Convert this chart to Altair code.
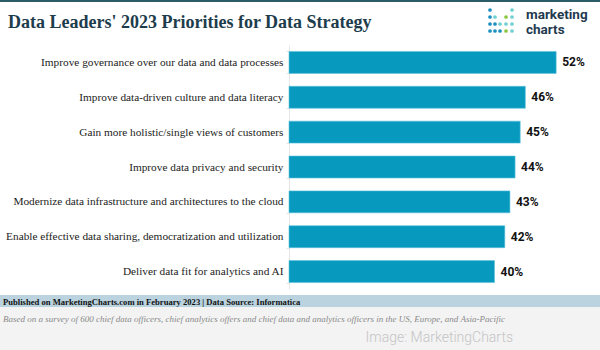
import altair as alt
import pandas as pd

categories = [
    "Improve governance over our data and data processes",
    "Improve data-driven culture and data literacy",
    "Gain more holistic/single views of customers",
    "Improve data privacy and security",
    "Modernize data infrastructure and architectures to the cloud",
    "Enable effective data sharing, democratization and utilization",
    "Deliver data fit for analytics and AI",
]
values = [52, 46, 45, 44, 43, 42, 40]

title_text = "Data Leaders' 2023 Priorities for Data Strategy"
source_text = "Published on MarketingCharts.com in February 2023 | Data Source: Informatica"
note_text = ("Based on a survey of 600 chief data officers, chief analytics offers and chief data "
             "and analytics officers in the US, Europe, and Asia-Pacific")
credit_text = "Image: MarketingCharts"

df = pd.DataFrame({"cat": categories, "val": values})
df["label"] = [f"{v}%" for v in values]

W, H = 298, 244
L, T = 289, 45  # plot origin in page pixels

BAR = "#0899BE"

y_enc = alt.Y("cat:N", sort=categories, title=None,
              scale=alt.Scale(paddingInner=0.37, paddingOuter=0.185),
              axis=alt.Axis(labelFont="Liberation Serif", labelFontSize=11.3,
                            labelColor="#222222", labelPadding=3, labelLimit=300,
                            domainColor="#e6e6e6", tickColor="#e6e6e6", tickSize=3,
                            tickBand="extent", ticks=True, grid=False))
x_enc = alt.X("val:Q", title=None, scale=alt.Scale(domain=[0, 58]), axis=None)

bars = alt.Chart(df).mark_bar(color=BAR, stroke="#5cc3dd", strokeWidth=0.6).encode(x=x_enc, y=y_enc)
labels = alt.Chart(df).mark_text(align="left", baseline="middle", dx=6,
                                 font="Roboto", fontWeight="bold", fontSize=12,
                                 color="#111111").encode(x=x_enc, y=y_enc, text="label:N")

one = alt.Data(values=[{}])

def px(v):
    return alt.value(v - L)

def py(v):
    return alt.value(v - T)

top_line = alt.Chart(one).mark_rect(color="#2c5b69").encode(
    x=px(0), x2=px(600), y=py(0), y2=py(2))

title = alt.Chart(one).mark_text(align="left", baseline="alphabetic", font="Liberation Serif",
                                 fontWeight="bold", fontSize=18, color="#1d3c4c").encode(
    x=px(8), y=py(28), text=alt.value(title_text))

# logo
dots = pd.DataFrame({
    "dx": [490, 512, 490, 495, 506, 512, 490, 495, 500, 506, 512, 490, 495, 500, 506, 512],
    "dy": [10, 10, 17, 17, 17, 17, 24, 24, 24, 24, 24, 31, 31, 31, 31, 31],
    "c":  ["#1a8fc0", "#6fd0d0", "#1a8fc0", "#6fd0d0", "#8cc63f", "#6fd0d0",
           "#1a8fc0", "#1a8fc0", "#6fd0d0", "#6fd0d0", "#6fd0d0",
           "#1a8fc0", "#1a8fc0", "#1a8fc0", "#8cc63f", "#6fd0d0"],
})
dots["dx"] = dots["dx"] - L
dots["dy"] = dots["dy"] - T
logo_dots = alt.Chart(dots).mark_circle(size=14, opacity=1).encode(
    x=alt.X("dx:Q", scale=None), y=alt.Y("dy:Q", scale=None),
    color=alt.Color("c:N", scale=None))
logo_t1 = alt.Chart(one).mark_text(align="left", baseline="alphabetic", font="Roboto",
                                   fontWeight="bold", fontSize=13.5, color="#1f3a4f").encode(
    x=px(526), y=py(19), text=alt.value("marketing"))
logo_t2 = alt.Chart(one).mark_text(align="left", baseline="alphabetic", font="Roboto",
                                   fontWeight="bold", fontSize=13.5, color="#1f3a4f").encode(
    x=px(526), y=py(34), text=alt.value("charts"))

band = alt.Chart(one).mark_rect(color="#bad3df").encode(
    x=px(0), x2=px(600), y=py(295), y2=py(307))
grey = alt.Chart(one).mark_rect(color="#f3f3f3").encode(
    x=px(0), x2=px(600), y=py(307), y2=py(350))
source = alt.Chart(one).mark_text(align="left", baseline="middle", font="Liberation Serif",
                                  fontWeight="bold", fontSize=8.6, color="#111111").encode(
    x=px(3), y=py(301.5), text=alt.value(source_text))
note = alt.Chart(one).mark_text(align="left", baseline="middle", font="Liberation Serif",
                                fontStyle="italic", fontSize=9, color="#8a8a8a").encode(
    x=px(3), y=py(319), text=alt.value(note_text))
credit = alt.Chart(one).mark_text(align="right", baseline="middle", font="Roboto",
                                  fontWeight=300, fontSize=14, color="#c4c4c4").encode(
    x=px(513), y=py(338), text=alt.value(credit_text))

chart = alt.layer(
    top_line, band, grey, bars, labels, title, logo_dots, logo_t1, logo_t2,
    source, note, credit,
).properties(
    width=W, height=H,
    autosize=alt.AutoSizeParams(type="none"),
    padding={"left": L, "top": T, "right": 600 - L - W, "bottom": 350 - T - H},
    background="white",
).configure_view(stroke=None)

chart.save("out.html", embed_options={"renderer": "svg", "actions": False})
